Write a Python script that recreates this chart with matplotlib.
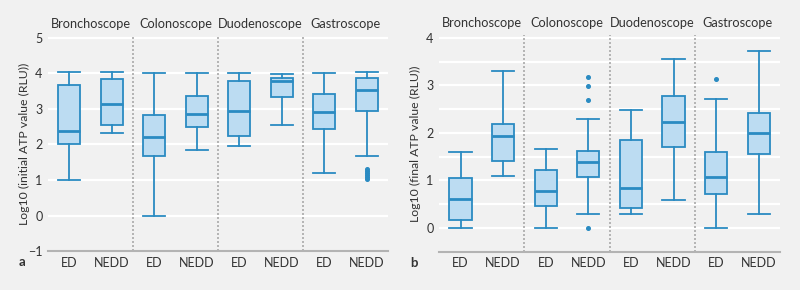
import matplotlib
matplotlib.use("Agg")
import matplotlib.pyplot as plt

scopes = ["Bronchoscope", "Colonoscope", "Duodenoscope", "Gastroscope"]
groups = ["ED", "NEDD"]

# Panel a: initial ATP (whislo, q1, med, q3, whishi), order: scope x group
a_whislo = [1.00, 2.32, 0.00, 1.83, 1.95, 2.55, 1.20, 1.67]
a_q1     = [2.00, 2.55, 1.67, 2.50, 2.25, 3.32, 2.43, 2.93]
a_med    = [2.37, 3.13, 2.20, 2.86, 2.95, 3.79, 2.92, 3.54]
a_q3     = [3.66, 3.85, 2.84, 3.35, 3.78, 3.87, 3.42, 3.88]
a_whishi = [4.03, 4.03, 4.02, 4.01, 4.02, 3.97, 4.02, 4.03]
a_fliers = [[], [], [], [], [], [], [], [1.04, 1.09, 1.14, 1.19, 1.24, 1.30]]

# Panel b: final ATP
b_whislo = [0.00, 1.09, 0.00, 0.30, 0.30, 0.59, 0.00, 0.30]
b_q1     = [0.16, 1.40, 0.47, 1.07, 0.41, 1.71, 0.72, 1.56]
b_med    = [0.61, 1.93, 0.78, 1.39, 0.85, 2.23, 1.08, 1.99]
b_q3     = [1.05, 2.18, 1.22, 1.62, 1.85, 2.77, 1.59, 2.41]
b_whishi = [1.60, 3.30, 1.66, 2.29, 2.48, 3.55, 2.71, 3.72]
b_fliers = [[], [], [], [3.17, 2.98, 2.69, 0.00], [], [], [3.14], []]

BG = "#f1f1f1"
EDGE = "#2a8bc2"
FILL = "#bcdcf2"
TXT = "#333333"
plt.rcParams["font.family"] = ["Lato", "DejaVu Sans"]

fig = plt.figure(figsize=(8, 2.9), dpi=100, facecolor=BG)

def panel(rect, whislo, q1, med, q3, whishi, fliers, ylim, yticks, grid, ylabel, letter, labx):
    ax = fig.add_axes(rect, facecolor=BG)
    stats = []
    for i in range(8):
        stats.append(dict(whislo=whislo[i], q1=q1[i], med=med[i], q3=q3[i],
                          whishi=whishi[i], fliers=fliers[i]))
    pos = [0.5 + i for i in range(8)]
    for yv in grid:
        ax.axhline(yv, color="white", lw=1.6, zorder=0)
    ax.bxp(stats, positions=pos, widths=0.52, patch_artist=True,
           boxprops=dict(facecolor=FILL, edgecolor=EDGE, lw=1.3),
           medianprops=dict(color=EDGE, lw=2.0),
           whiskerprops=dict(color=EDGE, lw=1.3),
           capprops=dict(color=EDGE, lw=1.3),
           capwidths=0.52,
           flierprops=dict(marker="o", markersize=2.6, markerfacecolor=EDGE,
                           markeredgecolor=EDGE, linestyle="none"),
           zorder=3)
    for s in (2, 4, 6):
        ax.axvline(s, ymin=0, ymax=1, color="#a9a9a9", lw=1.2, ls=(0, (1.2, 1.2)), zorder=1)
    ax.set_xlim(0, 8)
    ax.set_ylim(*ylim)
    ax.set_xticks(pos)
    ax.set_xticklabels(groups * 4)
    ax.set_yticks(yticks)
    ax.set_yticklabels([("\u2212%d" % -t) if t < 0 else str(t) for t in yticks])
    ax.tick_params(axis="both", length=0, labelsize=9, colors=TXT, pad=4)
    for sp in ("top", "right", "left"):
        ax.spines[sp].set_visible(False)
    ax.spines["bottom"].set_color("#b3b3b3")
    ax.spines["bottom"].set_linewidth(1.5)
    ax.set_ylabel(ylabel, fontsize=8.8, color=TXT, va="center")
    ax.yaxis.set_label_coords(labx, 0.5)
    for i, sc in enumerate(scopes):
        ax.text(2 * i + 1, 1.03, sc, transform=ax.get_xaxis_transform(),
                ha="center", va="bottom", fontsize=9.2, color=TXT)
    ax.text(-0.085, -0.052, letter, transform=ax.transAxes, ha="left", va="center",
            fontsize=9.5, fontweight="bold", color=TXT)
    return ax

panel([0.06, 0.134, 0.425, 0.742], a_whislo, a_q1, a_med, a_q3, a_whishi, a_fliers,
      (-1, 5.05), [-1, 0, 1, 2, 3, 4, 5], [0, 1, 2, 3, 4, 5],
      "Log10 (initial ATP value (RLU))", "a", -0.068)
panel([0.549, 0.132, 0.426, 0.746], b_whislo, b_q1, b_med, b_q3, b_whishi, b_fliers,
      (-0.5, 4.05), [0, 1, 2, 3, 4], [0, 0.5, 1, 1.5, 2, 2.5, 3, 3.5, 4],
      "Log10 (final ATP value (RLU))", "b", -0.07)

fig.savefig("out.png", dpi=100, facecolor=BG)
